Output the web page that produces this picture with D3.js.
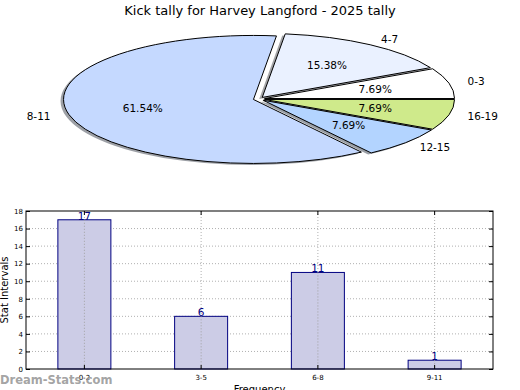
<!DOCTYPE html>
<html><head><meta charset="utf-8">
<script src="https://cdn.jsdelivr.net/npm/d3@7"></script>
<style>body{margin:0;background:#fff}svg{display:block;font-family:"DejaVu Sans",sans-serif}</style>
</head><body>
<svg id="c" width="520" height="390"></svg>
<script>
// ---- data ----
const title = "Kick tally for Harvey Langford - 2025 tally";
const pieLabels = ["0-3", "4-7", "8-11", "12-15", "16-19"];
const pieValues = [1, 2, 8, 1, 1];
const pieColors = ["#ffffff", "#eaf1ff", "#c5d9ff", "#b3d4ff", "#cfea8b"];
const pieExplode = [0.03, 0.03, 0.03, 0.03, 0.03];

const barCategories = ["0-2", "3-5", "6-8", "9-11"];
const barValues = [17, 6, 11, 1];
const yTicks = [0, 2, 4, 6, 8, 10, 12, 14, 16, 18];
const yLabel = "Stat Intervals";
const xLabel = "Frequency";
const watermark = "Dream-Stats.com";

const svg = d3.select("#c");

// ---- title ----
svg.append("text").attr("x", 260).attr("y", 15).attr("text-anchor", "middle")
  .attr("font-size", 13).attr("fill", "#000").text(title);

// ---- pie ----
const cx = 259, cy = 99, rx = 190, ry = 64;
const pie = d3.pie().sort(null).startAngle(Math.PI / 2).endAngle(Math.PI / 2 - 2 * Math.PI);
const arcs = pie(pieValues);
const arcGen = d3.arc().innerRadius(0).outerRadius(1);
const total = d3.sum(pieValues);

function dir(a) { return [Math.sin(a), -Math.cos(a)]; }

const pg = svg.append("g");
const shadowG = pg.append("g");
const wedgeG = pg.append("g");
arcs.forEach((a, i) => {
  const mid = (a.startAngle + a.endAngle) / 2;
  const [ux, uy] = dir(mid);
  const d = pieExplode[i];
  const ox = cx + ux * d * rx, oy = cy + uy * d * ry;
  const c = d3.rgb(pieColors[i]);
  const sc = d3.rgb(c.r * 0.3, c.g * 0.3, c.b * 0.3);
  shadowG.append("path").attr("d", arcGen(a))
    .attr("transform", `translate(${ox - 3},${oy + 1.6}) scale(${rx},${ry})`)
    .attr("fill", sc).attr("fill-opacity", 0.5).attr("stroke", "none");
  wedgeG.append("path").attr("d", arcGen(a))
    .attr("transform", `translate(${ox},${oy}) scale(${rx},${ry})`)
    .attr("fill", pieColors[i]).attr("stroke", "#000").attr("stroke-width", 1)
    .attr("vector-effect", "non-scaling-stroke").attr("stroke-linejoin", "miter");
  const lx = cx + ux * (1.1 + d) * rx, ly = cy + uy * (1.1 + d) * ry;
  pg.append("text").attr("x", lx).attr("y", ly).attr("dy", "0.35em")
    .attr("text-anchor", ux > 0 ? "start" : "end").attr("font-size", 10.5)
    .text(pieLabels[i]);
  const px = cx + ux * (0.6 + d) * rx, py = cy + uy * (0.6 + d) * ry;
  pg.append("text").attr("x", px).attr("y", py).attr("dy", "0.35em")
    .attr("text-anchor", "middle").attr("font-size", 10.5)
    .text((pieValues[i] / total * 100).toFixed(2) + "%");
});

// ---- bar chart ----
const L = 26, R = 493, T = 211, B = 369;
const x = d3.scaleBand().domain(barCategories).range([L, R]).paddingInner(0.546).paddingOuter(0.273);
const y = d3.scaleLinear().domain([0, 18]).range([B, T]);
const bg = svg.append("g");

bg.append("g").selectAll("line").data(yTicks.filter(t => t > 0 && t < 18)).join("line")
  .attr("x1", L).attr("x2", R).attr("y1", d => y(d)).attr("y2", d => y(d))
  .attr("stroke", "#b0b0b0").attr("stroke-width", 1).attr("stroke-dasharray", "1,2");
bg.append("g").selectAll("line").data(barCategories).join("line")
  .attr("x1", d => x(d) + x.bandwidth() / 2).attr("x2", d => x(d) + x.bandwidth() / 2)
  .attr("y1", T).attr("y2", B)
  .attr("stroke", "#b0b0b0").attr("stroke-width", 1).attr("stroke-dasharray", "1,2");

bg.append("g").selectAll("rect").data(barValues).join("rect")
  .attr("x", (d, i) => x(barCategories[i])).attr("width", x.bandwidth())
  .attr("y", d => y(d)).attr("height", d => B - y(d))
  .attr("fill", "#ccccE6").attr("stroke", "#000080").attr("stroke-width", 1);
bg.append("g").selectAll("line").data(barCategories).join("line")
  .attr("x1", d => x(d) + x.bandwidth() / 2).attr("x2", d => x(d) + x.bandwidth() / 2)
  .attr("y1", d => y(barValues[barCategories.indexOf(d)])).attr("y2", B)
  .attr("stroke", "#a0a0a0").attr("stroke-width", 1).attr("stroke-dasharray", "1,2");
bg.append("g").selectAll("text").data(barValues).join("text")
  .attr("x", (d, i) => x(barCategories[i]) + x.bandwidth() / 2).attr("y", d => y(d))
  .attr("text-anchor", "middle").attr("font-size", 10.5).attr("fill", "#000080")
  .text(d => d);

bg.append("rect").attr("x", L).attr("y", T).attr("width", R - L).attr("height", B - T)
  .attr("fill", "none").attr("stroke", "#000").attr("stroke-width", 1);

const yAxisL = d3.axisLeft(y).tickValues(yTicks).tickSizeInner(-4).tickSizeOuter(0).tickPadding(3);
const gy = bg.append("g").attr("transform", `translate(${L},0)`).call(yAxisL);
gy.select(".domain").remove();
gy.selectAll("text").attr("font-size", 7).attr("font-family", "DejaVu Sans").attr("fill", "#000");
const yAxisR = d3.axisRight(y).tickValues(yTicks).tickSizeInner(-4).tickSizeOuter(0).tickFormat("");
const gyr = bg.append("g").attr("transform", `translate(${R},0)`).call(yAxisR);
gyr.select(".domain").remove();

const xAxis = d3.axisBottom(x).tickSizeInner(-4).tickSizeOuter(0).tickPadding(6);
const gx = bg.append("g").attr("transform", `translate(0,${B})`).call(xAxis);
gx.select(".domain").remove();
gx.selectAll("text").attr("font-size", 7).attr("font-family", "DejaVu Sans").attr("fill", "#000");
const xAxisT = d3.axisTop(x).tickSizeInner(-4).tickSizeOuter(0).tickFormat("");
const gxt = bg.append("g").attr("transform", `translate(0,${T})`).call(xAxisT);
gxt.select(".domain").remove();

svg.append("text").attr("transform", `translate(4.5,${(T + B) / 2}) rotate(-90)`)
  .attr("text-anchor", "middle").attr("dy", "0.35em").attr("font-size", 10).text(yLabel);
svg.append("text").attr("x", (L + R) / 2).attr("y", 393).attr("text-anchor", "middle")
  .attr("font-size", 10).text(xLabel);

svg.append("text").attr("x", 0).attr("y", 384).attr("font-size", 11.5).attr("font-weight", "bold")
  .attr("fill", "#999").attr("fill-opacity", 0.9).text(watermark);
</script>
</body></html>
